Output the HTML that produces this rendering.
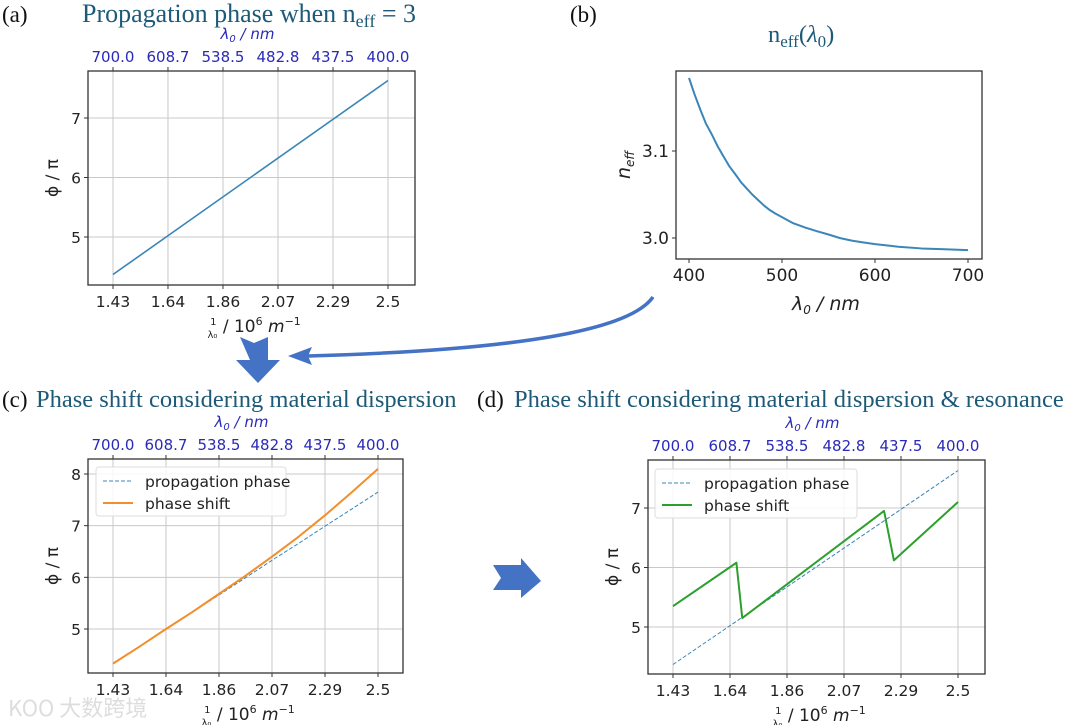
<!DOCTYPE html>
<html><head><meta charset="utf-8">
<style>
body{margin:0;background:#fff;}
svg{display:block;}
.tk{font-family:"DejaVu Sans","Liberation Sans",sans-serif;font-size:15.5px;fill:#222;}
.tt{font-family:"DejaVu Sans","Liberation Sans",sans-serif;font-size:15px;fill:#2a2ab8;}
.ttl{font-family:"Liberation Serif",serif;font-size:24.5px;fill:#1d5a78;}
.lab{font-family:"Liberation Serif",serif;font-size:23px;fill:#111;}
</style></head><body>
<svg id="fig" width="1080" height="725" viewBox="0 0 1080 725">
<text class="lab" x="2" y="22">(a)</text>
<text class="ttl" x="82" y="22" style="font-size:26px">Propagation phase when n<tspan font-size="18" dy="5">eff</tspan><tspan dy="-5"> = 3</tspan></text>
<text class="lab" x="570" y="22">(b)</text>
<text class="ttl" x="768" y="42">n<tspan font-size="17" dy="5">eff</tspan><tspan dy="-5">(</tspan><tspan font-style="italic">λ</tspan><tspan font-size="17" dy="5">0</tspan><tspan dy="-5">)</tspan></text>
<text class="lab" x="2" y="407">(c)</text>
<text class="ttl" x="36" y="407">Phase shift considering material dispersion</text>
<text class="lab" x="477" y="407">(d)</text>
<text class="ttl" x="514" y="407">Phase shift considering material dispersion &amp; resonance</text>
<path d="M240,337 L254,343 L268,337 L268,360 L280,360 L258,383 L236,360 L250,360 Z" fill="#4472c4"/>
<path d="M653,297 C630,330 520,350 308,356" stroke="#4472c4" stroke-width="3.5" fill="none"/>
<path d="M288,356 L312,347 L308,356 L312,365 Z" fill="#4472c4"/>
<path d="M493,565 L521,565 L521,558 L541,581 L521,598 L521,590 L493,590 L501,578 Z" fill="#4472c4"/>
<text x="8" y="716" font-family="Noto Sans CJK SC,sans-serif" font-size="22" fill="#ddd">KOO 大数跨境</text>
</svg>
<script>
// shared axes
const invTicks = [1.4286, 1.6428, 1.8571, 2.0714, 2.2857, 2.5];
const invTickLabels = ["1.43","1.64","1.86","2.07","2.29","2.5"];
const nmTickLabels = ["700.0","608.7","538.5","482.8","437.5","400.0"];
// panel a
const aX = [1.4286, 2.5];
const aY = [4.37, 7.63];
const aYTicks = [5, 6, 7];
// panel b
const bLambda = [400, 406, 412, 418, 425, 431, 437, 443, 450, 456, 462, 468, 475, 481, 487, 493, 500, 512, 525, 537, 550, 562, 575, 587, 600, 625, 650, 675, 700];
const bNeff = [3.184, 3.165, 3.148, 3.132, 3.118, 3.105, 3.094, 3.083, 3.073, 3.064, 3.057, 3.050, 3.043, 3.037, 3.032, 3.028, 3.024, 3.017, 3.012, 3.008, 3.004, 3.000, 2.997, 2.995, 2.993, 2.990, 2.988, 2.987, 2.986];
const bXTicks = [400, 500, 600, 700];
const bYTicks = [3.0, 3.1];
// panel c
const cX = [1.4286, 1.536, 1.6428, 1.75, 1.8571, 1.964, 2.0714, 2.18, 2.2857, 2.39, 2.5];
const cProp = [4.33, 4.66, 5.0, 5.33, 5.66, 5.99, 6.33, 6.66, 6.99, 7.31, 7.65];
const cShift = [4.33, 4.66, 5.0, 5.33, 5.68, 6.03, 6.40, 6.79, 7.20, 7.63, 8.10];
const cYTicks = [5, 6, 7, 8];
// panel d
const dX = [1.4286, 1.667, 1.689, 2.222, 2.259, 2.5];
const dShift = [5.35, 6.08, 5.15, 6.95, 6.12, 7.10];
const dPropX = [1.4286, 2.5];
const dProp = [4.37, 7.63];
const dYTicks = [5, 6, 7];

const NS = "http://www.w3.org/2000/svg";
const svg = document.getElementById('fig');
function mk(tag, attrs, parent){const e=document.createElementNS(NS,tag);for(const k in attrs)e.setAttribute(k,attrs[k]);(parent||svg).appendChild(e);return e;}
function lin(d0,d1,p0,p1){return v=>p0+(v-d0)*(p1-p0)/(d1-d0);}

function panel(o){
  const g=mk('g',{});
  
  
  const sx=o.sx, sy=o.sy;
  const fs=o.fs||15.5;
  if(o.grid){
    o.xt.forEach(v=>{const l=mk('line',{x1:sx(v),x2:sx(v),y1:o.y0,y2:o.y1,stroke:'#c8c8c8','stroke-width':1},g);
      });
    o.yt.forEach(v=>{const l=mk('line',{x1:o.x0,x2:o.x1,y1:sy(v),y2:sy(v),stroke:'#c8c8c8','stroke-width':1},g);
      });
  }
  o.series.forEach(s=>{
    const p=mk('polyline',{points:s.x.map((v,i)=>sx(v)+','+sy(s.y[i])).join(' '),fill:'none',stroke:s.c,'stroke-width':s.w||1.5,'stroke-dasharray':s.dash||'none','stroke-linejoin':'round'},g);
    
    
  });
  const fr=mk('rect',{x:o.x0,y:o.y0,width:o.x1-o.x0,height:o.y1-o.y0,fill:'none',stroke:'#333','stroke-width':1.3},g);
  
  o.xt.forEach((v,i)=>{
    mk('line',{x1:sx(v),x2:sx(v),y1:o.y1,y2:o.y1+4,stroke:'#333'},g);
    const t=mk('text',{x:sx(v),y:o.y1+22,'text-anchor':'middle',class:'tk',style:'font-size:'+fs+'px'},g);t.textContent=o.xl[i];
    
    if(o.top){
      mk('line',{x1:sx(v),x2:sx(v),y1:o.y0,y2:o.y0-4,stroke:'#333'},g);
      const u=mk('text',{x:sx(v),y:o.y0-9,'text-anchor':'middle',class:'tt'},g);u.textContent=nmTickLabels[i];
      
    }
  });
  o.yt.forEach((v,i)=>{
    mk('line',{x1:o.x0,x2:o.x0-4,y1:sy(v),y2:sy(v),stroke:'#333'},g);
    const t=mk('text',{x:o.x0-7,y:sy(v)+6,'text-anchor':'end',class:'tk',style:'font-size:'+fs+'px'},g);t.textContent=o.yl?o.yl[i]:String(v);
    
  });
  const cx=(o.x0+o.x1)/2;
  if(o.top){
    const t=mk('text',{x:cx-4,y:o.y0-32,'text-anchor':'middle',class:'tt','font-style':'italic'},g);
    t.innerHTML='λ<tspan font-size="10" dy="3">0</tspan><tspan dy="-3"> / nm</tspan>';
    
    const b=mk('text',{x:cx-44,y:o.y1+47,class:'tk',style:'font-size:17px'},g);
    b.innerHTML='<tspan font-size="10" dy="-7">1</tspan><tspan font-size="10" dx="-9" dy="13">λ₀</tspan><tspan dy="-6"> / 10</tspan><tspan font-size="11" dy="-7">6</tspan><tspan dy="7" font-style="italic"> m</tspan><tspan font-size="11" dy="-7">−1</tspan>';
    
    const y=mk('text',{x:0,y:0,class:'tk',style:'font-size:17px',transform:`translate(${o.x0-30},${(o.y0+o.y1)/2}) rotate(-90)`,'text-anchor':'middle'},g);
    y.textContent='ϕ / π';
  }
  if(o.legend){
    const L=o.legend;
    const r=mk('rect',{x:L.x,y:L.y,width:L.w,height:49,fill:'#fff','fill-opacity':0.85,stroke:'#ddd',rx:3},g);
    
    L.items.forEach((it,i)=>{
      const yy=L.y+14+i*22;
      mk('line',{x1:L.x+7,x2:L.x+37,y1:yy,y2:yy,stroke:it.c,'stroke-width':it.w,'stroke-dasharray':it.dash||'none'},g);
      const t=mk('text',{x:L.x+49,y:yy+6,class:'tk',style:'font-size:15.5px'},g);t.textContent=it.t;
      
    });
  }
}
const blue='#3a86b8';
panel({name:'panel-a',x0:88,x1:415,y0:71,y1:285,sx:lin(invTicks[0],invTicks[5],113,388),sy:lin(5,7,237,118),
  xt:invTicks,xl:invTickLabels,yt:aYTicks,grid:true,top:true,
  series:[{name:'propagation-line',x:aX,y:aY,c:blue,w:1.6}]});
panel({name:'panel-b',x0:676,x1:982,y0:71,y1:259,sx:lin(400,700,689,968),sy:lin(3.0,3.1,238,151),fs:17,
  xt:bXTicks,xl:bXTicks.map(String),yt:bYTicks,yl:['3.0','3.1'],grid:false,top:false,
  series:[{name:'neff-curve',x:bLambda,y:bNeff,c:blue,w:2}]});
{const t=mk('text',{x:792,y:310,class:'tk',style:'font-size:19px','font-style':'italic'});
 t.innerHTML='λ<tspan font-size="12" dy="4">0</tspan><tspan dy="-4"> / nm</tspan>';
 
 const y=mk('text',{x:0,y:0,class:'tk',transform:'translate(630,165) rotate(-90)','text-anchor':'middle',style:'font-size:19px','font-style':'italic'});
 y.innerHTML='n<tspan font-size="12" dy="4">eff</tspan>';
 }
panel({name:'panel-c',x0:88,x1:403,y0:459,y1:673,sx:lin(invTicks[0],invTicks[5],113,378),sy:lin(5,8,629,474),
  xt:invTicks,xl:invTickLabels,yt:cYTicks,grid:true,top:true,
  series:[{name:'propagation-phase-c',x:cX,y:cProp,c:blue,w:1,dash:'4,2'},{name:'phase-shift-c',x:cX,y:cShift,c:'#f28e2b',w:2}],
  legend:{x:96,y:467,w:190,items:[{t:'propagation phase',c:blue,w:1,dash:'4,2'},{t:'phase shift',c:'#f28e2b',w:2}]}});
panel({name:'panel-d',x0:648,x1:985,y0:460,y1:674,sx:lin(invTicks[0],invTicks[5],673,958),sy:lin(5,7,627,508),
  xt:invTicks,xl:invTickLabels,yt:dYTicks,grid:true,top:true,
  series:[{name:'propagation-phase-d',x:dPropX,y:dProp,c:blue,w:1,dash:'4,2'},{name:'phase-shift-d',x:dX,y:dShift,c:'#2ca02c',w:2}],
  legend:{x:655,y:469,w:202,items:[{t:'propagation phase',c:blue,w:1,dash:'4,2'},{t:'phase shift',c:'#2ca02c',w:2}]}});
</script>
</body></html>
